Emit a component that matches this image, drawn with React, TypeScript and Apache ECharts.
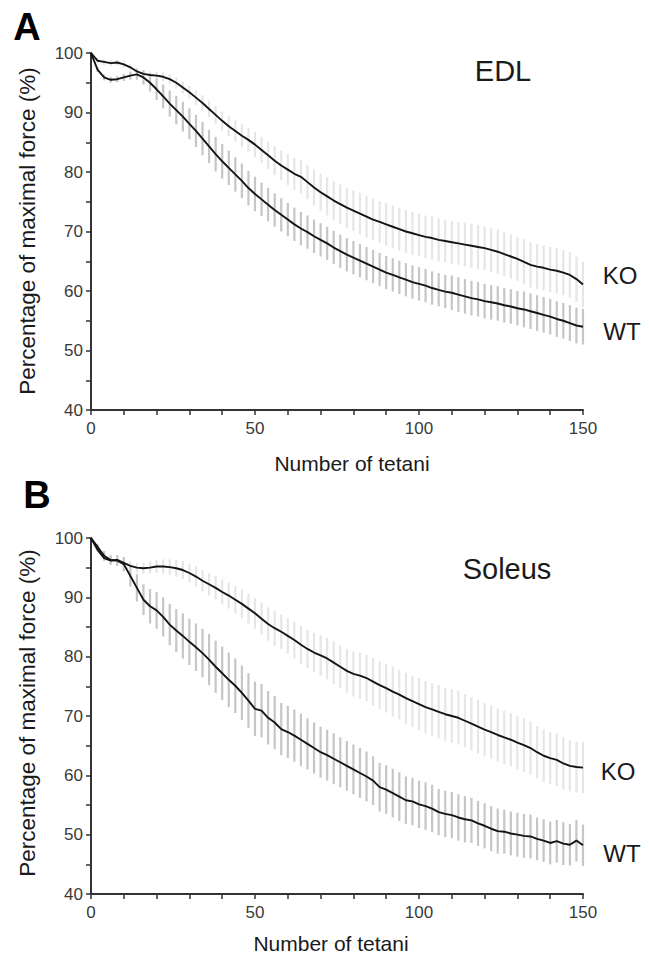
import React, { useEffect, useRef } from "react";
import * as echarts from "echarts";

// Number of tetani (x positions of the samples)
const TETANI = [0, 2, 4, 6, 8, 10, 12, 14, 16, 18, 20, 22, 24, 26, 28, 30, 32, 34, 36, 38, 40, 42, 44, 46, 48, 50, 52, 54, 56, 58, 60, 62, 64, 66, 68, 70, 72, 74, 76, 78, 80, 82, 84, 86, 88, 90, 92, 94, 96, 98, 100, 102, 104, 106, 108, 110, 112, 114, 116, 118, 120, 122, 124, 126, 128, 130, 132, 134, 136, 138, 140, 142, 144, 146, 148, 150];

// Panel A – EDL
const EDL_WT = [100, 97.2, 95.9, 95.5, 95.6, 95.9, 96.2, 96.4, 95.9, 95.0, 93.9, 92.7, 91.5, 90.4, 89.3, 88.1, 86.9, 85.6, 84.3, 83.0, 81.8, 80.7, 79.6, 78.5, 77.3, 76.3, 75.4, 74.5, 73.6, 72.8, 72.0, 71.2, 70.5, 69.9, 69.2, 68.6, 68.0, 67.3, 66.7, 66.1, 65.6, 65.1, 64.6, 64.1, 63.6, 63.1, 62.7, 62.3, 61.9, 61.5, 61.2, 60.9, 60.5, 60.2, 59.9, 59.7, 59.4, 59.1, 58.8, 58.6, 58.3, 58.1, 57.9, 57.6, 57.4, 57.1, 56.9, 56.6, 56.3, 56.0, 55.7, 55.3, 55.0, 54.6, 54.2, 54.0];
const EDL_WT_SEM = [0, 0.4, 0.5, 0.5, 0.5, 0.6, 0.7, 0.9, 1.2, 1.5, 1.8, 2.0, 2.2, 2.4, 2.5, 2.6, 2.7, 2.8, 2.8, 2.9, 2.9, 2.9, 2.9, 2.9, 2.9, 2.9, 2.8, 2.8, 2.8, 2.8, 2.8, 2.8, 2.8, 2.8, 2.8, 2.8, 2.8, 2.8, 2.8, 2.8, 2.8, 2.8, 2.8, 2.8, 2.8, 2.8, 2.8, 2.8, 2.8, 2.8, 2.8, 2.8, 2.8, 2.8, 2.8, 2.9, 2.9, 2.9, 2.9, 2.9, 2.9, 2.9, 2.9, 2.9, 2.9, 2.9, 3.0, 3.0, 3.0, 3.0, 3.0, 3.0, 3.0, 3.0, 3.0, 3.0];
const EDL_KO = [100, 98.7, 98.5, 98.3, 98.4, 98.1, 97.6, 96.9, 96.5, 96.3, 96.2, 96.0, 95.6, 95.0, 94.2, 93.4, 92.5, 91.6, 90.6, 89.6, 88.6, 87.7, 86.9, 86.1, 85.4, 84.6, 83.7, 82.8, 81.9, 81.1, 80.4, 79.7, 79.2, 78.3, 77.4, 76.6, 75.9, 75.2, 74.6, 74.0, 73.5, 73.0, 72.5, 72.0, 71.6, 71.2, 70.8, 70.4, 70.0, 69.7, 69.4, 69.1, 68.9, 68.6, 68.4, 68.2, 68.0, 67.8, 67.6, 67.4, 67.2, 66.9, 66.6, 66.2, 65.8, 65.4, 64.9, 64.4, 64.1, 63.9, 63.6, 63.4, 63.1, 62.7, 62.0, 61.1];
const EDL_KO_SEM = [0, 0.4, 0.5, 0.5, 0.5, 0.5, 0.5, 0.6, 0.6, 0.6, 0.6, 0.7, 0.8, 0.9, 1.0, 1.1, 1.2, 1.3, 1.4, 1.5, 1.6, 1.7, 1.8, 1.9, 2.0, 2.1, 2.2, 2.3, 2.4, 2.5, 2.6, 2.7, 2.8, 2.9, 3.0, 3.1, 3.2, 3.3, 3.3, 3.4, 3.4, 3.5, 3.5, 3.5, 3.5, 3.6, 3.6, 3.6, 3.6, 3.6, 3.6, 3.6, 3.6, 3.6, 3.6, 3.6, 3.6, 3.7, 3.7, 3.7, 3.7, 3.7, 3.7, 3.7, 3.7, 3.7, 3.8, 3.8, 3.8, 3.8, 3.8, 3.8, 3.8, 3.8, 3.8, 3.8];

// Panel B – Soleus
const SOL_WT = [100, 98.5, 97.0, 96.3, 96.2, 95.6, 93.6, 91.6, 89.6, 88.5, 87.8, 86.7, 85.4, 84.4, 83.5, 82.5, 81.6, 80.6, 79.5, 78.3, 77.2, 76.1, 75.1, 73.9, 72.6, 71.2, 70.9, 69.7, 68.9, 67.8, 67.3, 66.7, 66.0, 65.3, 64.6, 63.9, 63.4, 62.8, 62.2, 61.6, 61.0, 60.4, 59.8, 59.1, 58.0, 57.6, 57.0, 56.4, 55.8, 55.6, 55.1, 54.8, 54.4, 53.8, 53.5, 53.3, 52.9, 52.6, 52.4, 51.9, 51.5, 51.0, 50.6, 50.5, 50.2, 50.0, 49.8, 49.7, 49.3, 49.0, 48.6, 48.9, 48.5, 48.3, 49.0, 48.2];
const SOL_WT_SEM = [0, 0.5, 0.8, 0.8, 0.9, 1.2, 1.8, 2.3, 2.6, 2.9, 3.1, 3.3, 3.5, 3.6, 3.8, 3.9, 4.0, 4.1, 4.3, 4.4, 4.5, 4.6, 4.6, 4.6, 4.6, 4.6, 4.5, 4.5, 4.5, 4.4, 4.4, 4.4, 4.4, 4.3, 4.3, 4.3, 4.3, 4.3, 4.2, 4.2, 4.2, 4.2, 4.2, 4.1, 4.1, 4.1, 4.1, 4.1, 4.0, 4.0, 4.0, 4.0, 4.0, 3.9, 3.9, 3.9, 3.9, 3.9, 3.8, 3.8, 3.8, 3.8, 3.8, 3.7, 3.7, 3.7, 3.7, 3.7, 3.6, 3.6, 3.6, 3.6, 3.6, 3.5, 3.5, 3.5];
const SOL_KO = [100, 98.0, 96.6, 96.2, 96.3, 95.8, 95.3, 95.0, 94.9, 95.0, 95.2, 95.2, 95.1, 94.9, 94.6, 94.1, 93.5, 92.8, 92.2, 91.6, 90.9, 90.3, 89.6, 88.9, 88.1, 87.3, 86.4, 85.5, 84.8, 84.2, 83.5, 82.8, 82.0, 81.3, 80.7, 80.2, 79.7, 79.0, 78.3, 77.6, 77.1, 76.8, 76.4, 75.8, 75.2, 74.7, 74.1, 73.6, 73.0, 72.5, 72.0, 71.5, 71.1, 70.7, 70.3, 70.0, 69.7, 69.2, 68.7, 68.2, 67.7, 67.3, 66.8, 66.4, 66.0, 65.5, 65.1, 64.6, 63.9, 63.3, 62.9, 62.6, 62.0, 61.6, 61.4, 61.3];
const SOL_KO_SEM = [0, 0.4, 0.5, 0.6, 0.7, 0.7, 0.8, 0.8, 0.9, 1.0, 1.1, 1.2, 1.3, 1.4, 1.5, 1.6, 1.7, 1.8, 1.9, 2.0, 2.1, 2.2, 2.3, 2.4, 2.5, 2.6, 2.7, 2.8, 2.9, 2.9, 3.0, 3.1, 3.2, 3.2, 3.3, 3.4, 3.5, 3.6, 3.6, 3.7, 3.8, 3.9, 3.9, 4.0, 4.0, 4.1, 4.2, 4.2, 4.3, 4.3, 4.4, 4.4, 4.4, 4.5, 4.5, 4.5, 4.5, 4.5, 4.5, 4.5, 4.5, 4.5, 4.5, 4.5, 4.5, 4.5, 4.5, 4.5, 4.4, 4.4, 4.4, 4.4, 4.4, 4.3, 4.3, 4.3];

const X_LABELS = [0, 50, 100, 150];
const Y_LABELS = [40, 50, 60, 70, 80, 90, 100];

const FONT = "'Liberation Sans', Arial, Helvetica, sans-serif";
const AXIS_COLOR = "#333";

function errorData(means: number[], sems: number[]) {
  return TETANI.map((t, i) => [t, means[i] - sems[i], means[i] + sems[i]]);
}
function lineData(means: number[]) {
  return TETANI.map((t, i) => [t, means[i]]);
}

function errorSeries(idx: number, data: number[][], color: string) {
  return {
    type: "custom",
    xAxisIndex: idx,
    yAxisIndex: idx,
    data,
    silent: true,
    z: 1,
    encode: { x: 0, y: [1, 2] },
    renderItem: (_params: any, api: any) => {
      const p1 = api.coord([api.value(0), api.value(1)]);
      const p2 = api.coord([api.value(0), api.value(2)]);
      return {
        type: "line",
        shape: { x1: p1[0], y1: p1[1], x2: p2[0], y2: p2[1] },
        style: { stroke: color, lineWidth: 2.2 },
      };
    },
  };
}

function meanSeries(idx: number, data: number[][]) {
  return {
    type: "line",
    xAxisIndex: idx,
    yAxisIndex: idx,
    data,
    showSymbol: false,
    silent: true,
    z: 3,
    lineStyle: { color: "#141414", width: 1.9 },
  };
}

function xAxis(idx: number) {
  return {
    type: "value",
    gridIndex: idx,
    min: 0,
    max: 150,
    interval: 10,
    axisLine: { show: true, lineStyle: { color: AXIS_COLOR, width: 2 } },
    axisTick: { show: true, length: 5, lineStyle: { color: AXIS_COLOR, width: 1.5 } },
    splitLine: { show: false },
    axisLabel: {
      margin: 10,
      fontSize: 17,
      color: "#3a3a3a",
      fontFamily: FONT,
      formatter: (v: number) => (X_LABELS.includes(v) ? String(v) : ""),
    },
  };
}

function yAxis(idx: number) {
  return {
    type: "value",
    gridIndex: idx,
    min: 40,
    max: 100,
    interval: 5,
    axisLine: { show: true, lineStyle: { color: AXIS_COLOR, width: 2 } },
    axisTick: { show: true, length: 5, lineStyle: { color: AXIS_COLOR, width: 1.5 } },
    splitLine: { show: false },
    axisLabel: {
      margin: 8,
      fontSize: 17,
      color: "#3a3a3a",
      fontFamily: FONT,
      formatter: (v: number) => (Y_LABELS.includes(v) ? String(v) : ""),
    },
  };
}

function txt(text: string, x: number, y: number, size: number, opts: any = {}) {
  return {
    type: "text",
    x,
    y,
    rotation: opts.rotation || 0,
    silent: true,
    style: {
      text,
      fill: opts.color || "#1a1a1a",
      font: `${opts.bold ? "bold " : ""}${size}px ${FONT}`,
      align: "center",
      verticalAlign: "middle",
    },
  };
}

export default function App() {
  const ref = useRef<HTMLDivElement>(null);

  useEffect(() => {
    if (!ref.current) return;
    const chart = echarts.init(ref.current, null, { renderer: "svg" });
    chart.setOption({
      animation: false,
      backgroundColor: "#ffffff",
      grid: [
        { left: 91, top: 53, width: 492, height: 357 },
        { left: 91, top: 538, width: 492, height: 356 },
      ],
      xAxis: [xAxis(0), xAxis(1)],
      yAxis: [yAxis(0), yAxis(1)],
      series: [
        errorSeries(0, errorData(EDL_KO, EDL_KO_SEM), "#e6e6e6"),
        errorSeries(0, errorData(EDL_WT, EDL_WT_SEM), "#c6c6c6"),
        meanSeries(0, lineData(EDL_KO)),
        meanSeries(0, lineData(EDL_WT)),
        errorSeries(1, errorData(SOL_KO, SOL_KO_SEM), "#e6e6e6"),
        errorSeries(1, errorData(SOL_WT, SOL_WT_SEM), "#c6c6c6"),
        meanSeries(1, lineData(SOL_KO)),
        meanSeries(1, lineData(SOL_WT)),
      ],
      graphic: [
        txt("A", 27, 27, 38, { bold: true, color: "#000" }),
        txt("B", 37, 495, 38, { bold: true, color: "#000" }),
        txt("EDL", 503, 71, 29),
        txt("Soleus", 507, 569, 29),
        txt("KO", 620, 275, 24),
        txt("WT", 622, 331, 24),
        txt("KO", 618, 771, 24),
        txt("WT", 622, 853, 24),
        txt("Number of tetani", 352, 463, 21),
        txt("Number of tetani", 331, 943, 21),
        txt("Percentage of maximal force (%)", 27, 231, 22.5, { rotation: Math.PI / 2 }),
        txt("Percentage of maximal force (%)", 27, 713, 22.5, { rotation: Math.PI / 2 }),
      ],
    });
    return () => chart.dispose();
  }, []);

  return (
    <div
      ref={ref}
      style={{ position: "absolute", left: 0, top: 0, width: 649, height: 961, background: "#fff" }}
    />
  );
}
